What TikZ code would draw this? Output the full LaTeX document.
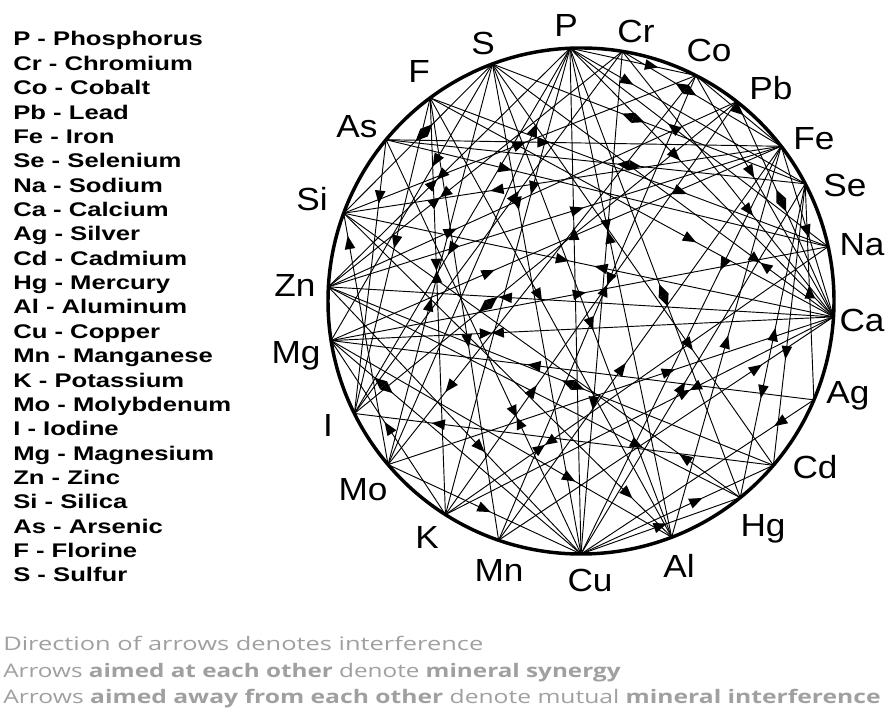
\documentclass[tikz,border=0pt]{standalone}
\usepackage{fontspec}
\setmainfont{Liberation Sans}
\newfontfamily\legfont{Liberation Sans}[FakeStretch=1.3]
\newfontfamily\labfont{Liberation Sans}[FakeStretch=1.1]
\newfontfamily\notefont{Open Sans}
\usetikzlibrary{decorations.markings}
\definecolor{notegray}{RGB}{160,160,160}
\begin{document}
\begin{tikzpicture}[x=0.75pt,y=0.75pt,
  wire/.style={line width=0.7pt, black},
  rim/.style={line width=2.6pt, black},
  one/.style={postaction={decorate,decoration={markings,mark=at position #1 with {\fill (5pt,0)--(-5pt,4pt)--(-5pt,-4pt)--cycle;}}}},
  one/.default=0.5,
  bk/.style={postaction={decorate,decoration={markings,mark=at position #1 with {\fill (-5pt,0)--(5pt,4pt)--(5pt,-4pt)--cycle;}}}},
  bk/.default=0.5,
  syn/.style={postaction={decorate,decoration={markings,mark=at position #1 with {\fill (0,0)--(-9pt,4pt)--(-9pt,-4pt)--cycle; \fill (0,0)--(9pt,4pt)--(9pt,-4pt)--cycle;}}}},
  syn/.default=0.5,
  aw/.style={postaction={decorate,decoration={markings,mark=at position #1 with {\fill (9pt,0)--(0,4pt)--(0,-4pt)--cycle; \fill (-9pt,0)--(0,4pt)--(0,-4pt)--cycle;}}}},
  aw/.default=0.5,
  lab/.style={font=\labfont\fontsize{24}{24}\selectfont, anchor=base, inner sep=0pt},
  leg/.style={font=\legfont\bfseries\fontsize{14.8}{14.8}\selectfont, anchor=base west, inner sep=0pt},
  note/.style={font=\notefont\fontsize{14}{14}\selectfont, text=notegray, anchor=base west, inner sep=0pt}
]
\fill[white] (0,0) rectangle (892,713);
\useasboundingbox (0,0) rectangle (892,713);

\coordinate (O) at (581,412);
\foreach \n/\a in {P/92.5,Cr/80.6,Co/63,Pb/52,Fe/37.7,Se/27.6,Na/12.4,Ca/-3.6,Ag/-23,Cd/-40.5,Hg/-51,Al/-69,Cu/-90,Mn/-109,K/-122.4,Mo/-139.7,I/-153.6,Mg/-171,Zn/176.8,Si/159.7,As/140.4,F/126.6,S/110.5}
  \path (O) ++(\a:253) coordinate (\n);

% connectors
\draw[wire, one=0.634] (Cu) -- (P);
\draw[wire, one=0.65] (Ca) -- (Zn);
\draw[wire, syn=0.32] (Mg) -- (Ca);
\draw[wire, one=0.447, bk=0.525] (Si) -- (Ca);
\draw[wire, syn=0.786] (S) -- (Ca);
\draw[wire, one=0.645] (F) -- (Ca);
\draw[wire, one=0.63] (Mo) -- (Ca);
\draw[wire, one=0.4] (As) -- (Fe);
\draw[wire, one=0.245] (P) -- (Se);
\draw[wire, one=0.6] (Na) -- (P);
\draw[wire, aw=0.58] (As) -- (Se);
\draw[wire, one=0.805] (Mo) -- (P);
\draw[wire, one=0.285] (S) -- (Cu);
\draw[wire, syn=0.375] (P) -- (Al);
\draw[wire, one=0.436] (Mn) -- (Fe);
\draw[wire, one=0.58] (Ag) -- (Mg);
\draw[wire, syn=0.67] (As) -- (Cu);
\draw[wire, syn=0.26] (K) -- (Na);
\draw[wire, one=0.866] (Si) -- (Al);
\draw[wire, one=0.29] (Fe) -- (Cu);
\draw[wire, aw=0.46] (Pb) -- (Ca);
\draw[wire, one=0.5] (Fe) -- (Ca);
\draw[wire, syn=0.63] (K) -- (Ca);
\draw[wire, one=0.77] (Mn) -- (Ca);
\draw[wire, bk=0.48, one=0.663] (Se) -- (Hg);
\draw[wire, one=0.147] (Ag) -- (Cu);
\draw[wire, one=0.14] (Hg) -- (Si);
\draw[wire, aw=0.54] (Si) -- (S);
\draw[wire, syn=0.45] (Zn) -- (P);
\draw[wire, syn=0.38] (Zn) -- (Cr);
\draw[wire, one=0.21] (As) -- (I);
\draw[wire, one=0.457] (F) -- (I);
\draw[wire, bk=0.116] (Si) -- (Mo);
\draw[wire, syn=0.415] (F) -- (K);
\draw[wire, one=0.27] (As) -- (Na);
\draw[wire, one=0.65] (P) -- (Co);
\draw[wire, aw=0.4] (Cr) -- (Fe);
\draw[wire, one=0.63] (F) -- (Na);
\draw[wire, aw=0.21] (Mg) -- (Cu);
\draw[wire, one=0.3] (P) -- (K);
\draw[wire, one=0.55] (P) -- (I);
\draw[wire, one=0.4] (P) -- (Ca);
\draw[wire, aw=0.55] (P) -- (Hg);
\draw[wire, one=0.35] (S) -- (Mg);
\draw[wire, bk=0.6] (S) -- (Mo);
\draw[wire, one=0.55] (S) -- (Al);
\draw[wire, aw=0.45] (S) -- (Se);
\draw[wire, one=0.7] (S) -- (Cd);
\draw[wire, one=0.55] (F) -- (Mn);
\draw[wire, one=0.45] (F) -- (Al);
\draw[wire, one=0.5] (Si) -- (Co);
\draw[wire, bk=0.35] (Si) -- (Fe);
\draw[wire, one=0.6] (Zn) -- (Cu);
\draw[wire, one=0.55] (Zn) -- (Fe);
\draw[wire, aw=0.55] (Zn) -- (Cd);
\draw[wire, one=0.3] (Zn) -- (Pb);
\draw[wire, one=0.75] (Zn) -- (Hg);
\draw[wire, one=0.5] (Mg) -- (Na);
\draw[wire, one=0.7] (Mg) -- (Al);
\draw[wire, bk=0.5] (Mg) -- (K);
\draw[wire, one=0.35] (Mg) -- (Fe);
\draw[wire, bk=0.2] (I) -- (Cd);
\draw[wire, aw=0.35] (I) -- (Pb);
\draw[wire, one=0.6] (I) -- (Cr);
\draw[wire, one=0.5] (Mo) -- (Cu);
\draw[wire, bk=0.2] (Mo) -- (Co);
\draw[wire, one=0.3] (K) -- (Pb);
\draw[wire, syn=0.55] (Mn) -- (Co);
\draw[wire, one=0.6] (Cu) -- (Cd);
\draw[wire, one=0.5] (Cu) -- (Hg);
\draw[wire, one=0.45] (Cu) -- (Se);
\draw[wire, bk=0.3] (Cu) -- (Cr);
\draw[wire, one=0.5] (Al) -- (Fe);
\draw[wire, bk=0.4] (Cd) -- (Se);
\draw[wire, one=0.5] (Ag) -- (Se);
\draw[wire, one=0.5] (Co) -- (Fe);
\draw[wire, one=0.4] (Co) -- (Ca);
\draw[wire, one=0.6] (Cr) -- (Ca);

% rim
\draw[rim] (O) circle[radius=253];

% element labels
\node[lab] (lP)  at (566,676) {P};
\node[lab] (lCr) at (636,670) {Cr};
\node[lab] (lCo) at (709,651) {Co};
\node[lab] (lPb) at (771,613) {Pb};
\node[lab] (lFe) at (814,563) {Fe};
\node[lab] (lSe) at (845,516) {Se};
\node[lab] (lNa) at (862,457) {Na};
\node[lab] (lCa) at (862,381) {Ca};
\node[lab] (lAg) at (848,309) {Ag};
\node[lab] (lCd) at (815,234) {Cd};
\node[lab] (lHg) at (763,176) {Hg};
\node[lab] (lAl) at (679,135) {Al};
\node[lab] (lCu) at (590,121) {Cu};
\node[lab] (lMn) at (499,131) {Mn};
\node[lab] (lK)  at (427,164) {K};
\node[lab] (lMo) at (363,212) {Mo};
\node[lab] (lI)  at (328,276) {I};
\node[lab] (lMg) at (296,349) {Mg};
\node[lab] (lZn) at (295,416) {Zn};
\node[lab] (lSi) at (312,502) {Si};
\node[lab] (lAs) at (357,575) {As};
\node[lab] (lF)  at (419,630) {F};
\node[lab] (lS)  at (483,658) {S};

% legend
\foreach \t [count=\i from 0] in {P - Phosphorus,Cr - Chromium,Co - Cobalt,Pb - Lead,Fe - Iron,Se - Selenium,Na - Sodium,Ca - Calcium,Ag - Silver,Cd - Cadmium,Hg - Mercury,Al - Aluminum,Cu - Copper,Mn - Manganese,K - Potassium,Mo - Molybdenum,I - Iodine,Mg - Magnesium,Zn - Zinc,Si - Silica,As - Arsenic,F - Florine,S - Sulfur}
  \node[leg] (leg\i) at (13,{667-\i*24.36}) {\t};

% notes
\node[note] (n1) at (3,62) {\resizebox{360pt}{\height}{Direction of arrows denotes interference}};
\node[note] (n2) at (3,35) {\resizebox{463pt}{\height}{Arrows \textbf{aimed at each other} denote \textbf{mineral synergy}}};
\node[note] (n3) at (3,9) {\resizebox{658pt}{\height}{Arrows \textbf{aimed away from each other} denote mutual \textbf{mineral interference}}};
\end{tikzpicture}
\end{document}
